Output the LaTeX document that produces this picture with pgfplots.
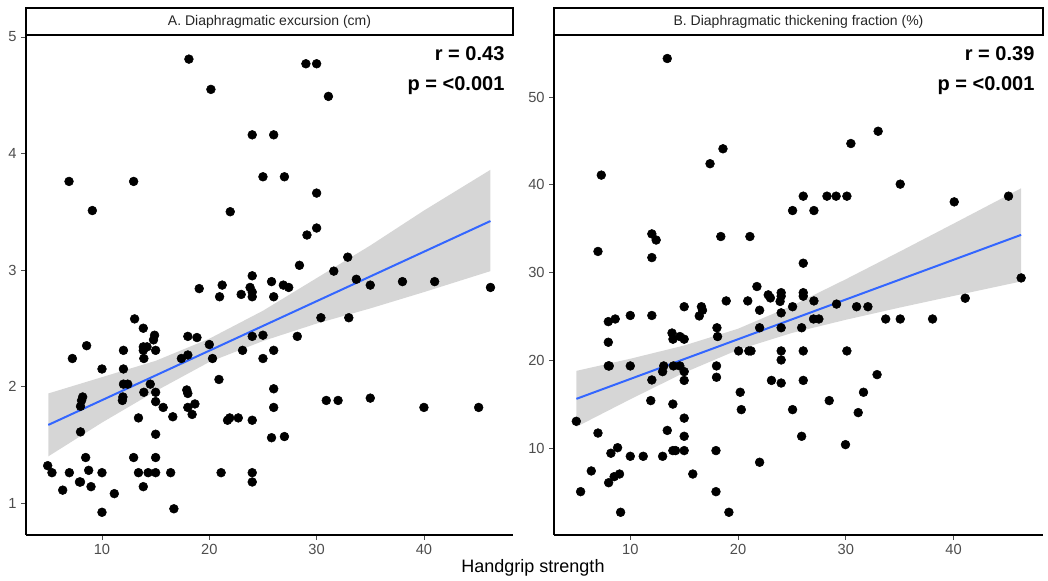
\documentclass[border=0pt]{standalone}
\usepackage{fontspec}
\setmainfont{Liberation Sans}
\usepackage{pgfplots}
\pgfplotsset{compat=1.18}

\definecolor{smoothblue}{HTML}{3366FF}
\definecolor{tickgrey}{HTML}{4D4D4D}
\definecolor{bandgrey}{HTML}{999999}

% 1 px of the reference = 0.75pt
\pgfplotsset{
  panel/.style={
    scale only axis,
    height=375pt,
    axis lines=left,
    axis line style={-, black, line width=0.9pt},
    tick align=outside,
    major tick length=3.5pt,
    tick style={tickgrey, line width=0.6pt},
    ticklabel style={font=\fontsize{11}{13}\selectfont, text=tickgrey},
    /pgf/number format/assume math mode=true,
    xmin=2.92, xmax=48.3,
    xtick={10,20,30,40},
    minor tick num=0,
  },
  pts/.style={only marks, mark=*, mark size=3.3pt,
    mark options={draw=black, fill=black}},
  band/.style={draw=none, fill=bandgrey, fill opacity=0.4},
  fit/.style={smoothblue, line width=1.5pt, no marks},
  strip/.style 2 args={
    extra description/.code={
      \draw[line width=0.9pt, fill=white] (axis description cs:0,1)
        rectangle ([yshift=20.25pt]axis description cs:1,1);
      \node[font=\fontsize{10.5}{12}\selectfont, text=black!85]
        at ([yshift=10.1pt]axis description cs:0.5,1) {#1};
      \node[anchor=base east, font=\bfseries\fontsize{15}{18}\selectfont]
        at (axis description cs:0.992,0.948) {r = #2};
      \node[anchor=base east, font=\bfseries\fontsize{15}{18}\selectfont]
        at (axis description cs:0.992,0.889) {p = <0.001};
    }
  },
}

\begin{document}
\begin{tikzpicture}
\path[use as bounding box] (-19.5pt,-34.5pt) rectangle (766.5pt,401.25pt);

% A. Diaphragmatic excursion
\begin{axis}[panel, width=365.25pt,
    ymin=0.725, ymax=5.017, ytick={1,2,3,4,5},
    strip={A. Diaphragmatic excursion (cm)}{0.43}]
  \addplot[pts] coordinates {
    (18.1,4.81) (20.15,4.55) (29.0,4.77) (30.0,4.77) (31.1,4.49)
    (24.0,4.16) (26.0,4.16) (6.93,3.76) (12.95,3.76) (9.1,3.51)
    (21.95,3.50) (25.0,3.80) (27.0,3.80) (30.0,3.66) (30.0,3.36)
    (29.1,3.30) (32.9,3.11) (28.4,3.04) (31.6,2.99) (33.7,2.92)
    (35.0,2.87) (38.0,2.90) (41.0,2.90) (46.2,2.85) (24.0,2.95)
    (25.8,2.90) (26.9,2.87) (27.4,2.85) (19.06,2.84) (21.2,2.87)
    (23.8,2.85) (20.96,2.77) (22.97,2.79) (24.0,2.81) (24.0,2.77)
    (26.0,2.77) (30.4,2.59) (33.0,2.59) (13.04,2.58) (13.85,2.50)
    (14.9,2.44) (14.8,2.40) (13.85,2.34) (14.2,2.34) (13.85,2.31)
    (15.0,2.31) (13.9,2.24) (18.0,2.43) (18.85,2.42) (20.0,2.36)
    (24.0,2.43) (25.0,2.44) (28.2,2.43) (17.4,2.24) (18.0,2.27)
    (20.3,2.24) (23.1,2.31) (26.0,2.31) (25.0,2.24) (7.24,2.24)
    (8.57,2.35) (10.0,2.15) (12.0,2.31) (12.0,2.15) (12.0,2.02)
    (12.4,2.02) (11.95,1.91) (11.9,1.88) (14.5,2.02) (13.9,1.95)
    (15.0,1.95) (15.0,1.87) (15.7,1.82) (16.6,1.74) (13.4,1.73)
    (15.0,1.59) (12.95,1.39) (15.0,1.39) (8.48,1.39) (4.94,1.32)
    (5.34,1.26) (6.96,1.26) (8.76,1.28) (10.0,1.26) (13.4,1.26)
    (14.3,1.26) (15.0,1.26) (16.4,1.26) (7.9,1.18) (8.0,1.18)
    (6.34,1.11) (8.98,1.14) (11.15,1.08) (13.85,1.14) (10.0,0.92)
    (16.7,0.95) (20.9,2.06) (17.9,1.97) (18.0,1.94) (18.66,1.85)
    (18.0,1.82) (18.4,1.76) (21.7,1.71) (21.9,1.73) (22.7,1.73)
    (24.0,1.71) (26.0,1.98) (26.0,1.82) (25.8,1.56) (27.0,1.57)
    (21.1,1.26) (24.0,1.26) (24.0,1.18) (30.9,1.88) (32.0,1.88)
    (35.0,1.90) (40.0,1.82) (45.1,1.82) (8.0,1.83) (8.1,1.88)
    (8.2,1.91) (8.0,1.61)
  };
  % confidence band: upper edge, then lower edge back
  \addplot[band] coordinates {
    (5,1.94) (10,2.08) (15,2.22) (20,2.41) (25,2.65) (30,2.93)
    (35,3.21) (40,3.51) (46.2,3.86)
    (46.2,2.99) (40,2.81) (35,2.67) (30,2.54) (25,2.39) (20,2.21)
    (15,1.96) (10,1.69) (5,1.40)
  } --cycle;
  \addplot[fit] coordinates {(5,1.67) (46.2,3.42)};
\end{axis}

% B. Diaphragmatic thickening fraction
\begin{axis}[panel, width=366.75pt, at={(396pt,0)},
    ymin=0.08, ymax=57.07, ytick={10,20,30,40,50},
    strip={B. Diaphragmatic thickening fraction (\%)}{0.39}]
  \addplot[pts] coordinates {
    (13.43,54.39) (7.31,41.1) (7.0,32.4) (12.0,34.4) (12.4,33.7)
    (12.0,31.7) (17.4,42.4) (18.6,44.1) (18.4,34.1) (21.1,34.1)
    (25.06,37.06) (27.04,37.06) (26.05,38.7) (28.25,38.7) (29.1,38.7)
    (30.1,38.7) (30.47,44.7) (33.0,46.1) (35.05,40.07) (40.06,38.05)
    (45.1,38.7) (46.27,29.38) (26.05,31.06) (21.75,28.4) (22.8,27.45)
    (23.0,27.1) (24.0,27.7) (24.0,27.3) (23.9,26.7) (26.05,27.7)
    (26.05,27.3) (20.9,26.76) (18.9,26.76) (22.0,25.7) (16.6,26.1)
    (16.4,25.05) (16.7,25.7) (15.0,26.1) (10.0,25.1) (12.0,25.1)
    (7.96,24.4) (8.6,24.7) (7.96,22.05) (7.96,19.35) (8.05,19.35)
    (10.0,19.35) (12.0,17.75) (13.1,19.35) (13.0,18.7) (13.87,23.1)
    (13.96,22.4) (14.6,22.7) (15.0,22.4) (14.0,19.35) (14.6,19.35)
    (15.0,18.7) (15.0,17.7) (18.04,23.7) (18.1,22.7) (18.0,19.35)
    (18.0,18.06) (20.05,21.06) (21.0,21.06) (21.2,21.06) (22.0,23.7)
    (24.0,25.4) (24.0,23.7) (24.0,21.06) (24.0,20.03) (25.06,26.1)
    (25.9,23.7) (27.04,26.76) (27.0,24.7) (27.5,24.7) (26.05,21.06)
    (29.14,26.4) (31.0,26.1) (32.05,26.1) (33.7,24.7) (35.05,24.7)
    (38.05,24.7) (41.08,27.07) (30.1,21.06) (32.9,18.36) (31.64,16.35)
    (31.15,14.03) (28.46,15.4) (25.06,14.37) (25.9,11.33) (29.97,10.38)
    (23.1,17.7) (24.0,17.4) (26.05,17.7) (20.2,16.35) (20.3,14.37)
    (22.0,8.37) (17.95,9.7) (17.95,5.02) (19.15,2.67) (15.8,7.03)
    (11.9,15.4) (13.95,15.0) (13.43,12.0) (15.0,13.4) (15.0,11.33)
    (13.95,9.7) (14.2,9.7) (15.0,9.7) (13.0,9.05) (11.2,9.05)
    (10.0,9.05) (8.82,10.03) (8.2,9.4) (4.99,13.04) (7.0,11.7)
    (6.38,7.38) (5.39,5.02) (7.99,6.04) (8.5,6.73) (9.0,7.03)
    (9.1,2.67)
  };
  \addplot[band] coordinates {
    (5,18.79) (10,20.17) (15,21.68) (20,23.59) (25,26.21) (30,29.23)
    (35,32.38) (40,35.57) (46.27,39.6)
    (46.27,28.98) (40,27.33) (35,26.0) (30,24.61) (25,23.11) (20,21.19)
    (15,18.58) (10,15.55) (5,12.41)
  } --cycle;
  \addplot[fit] coordinates {(5,15.60) (46.27,34.29)};
\end{axis}

\node[font=\fontsize{13.5}{16}\selectfont] at (380.25pt,-24.75pt) {Handgrip strength};
\end{tikzpicture}
\end{document}
